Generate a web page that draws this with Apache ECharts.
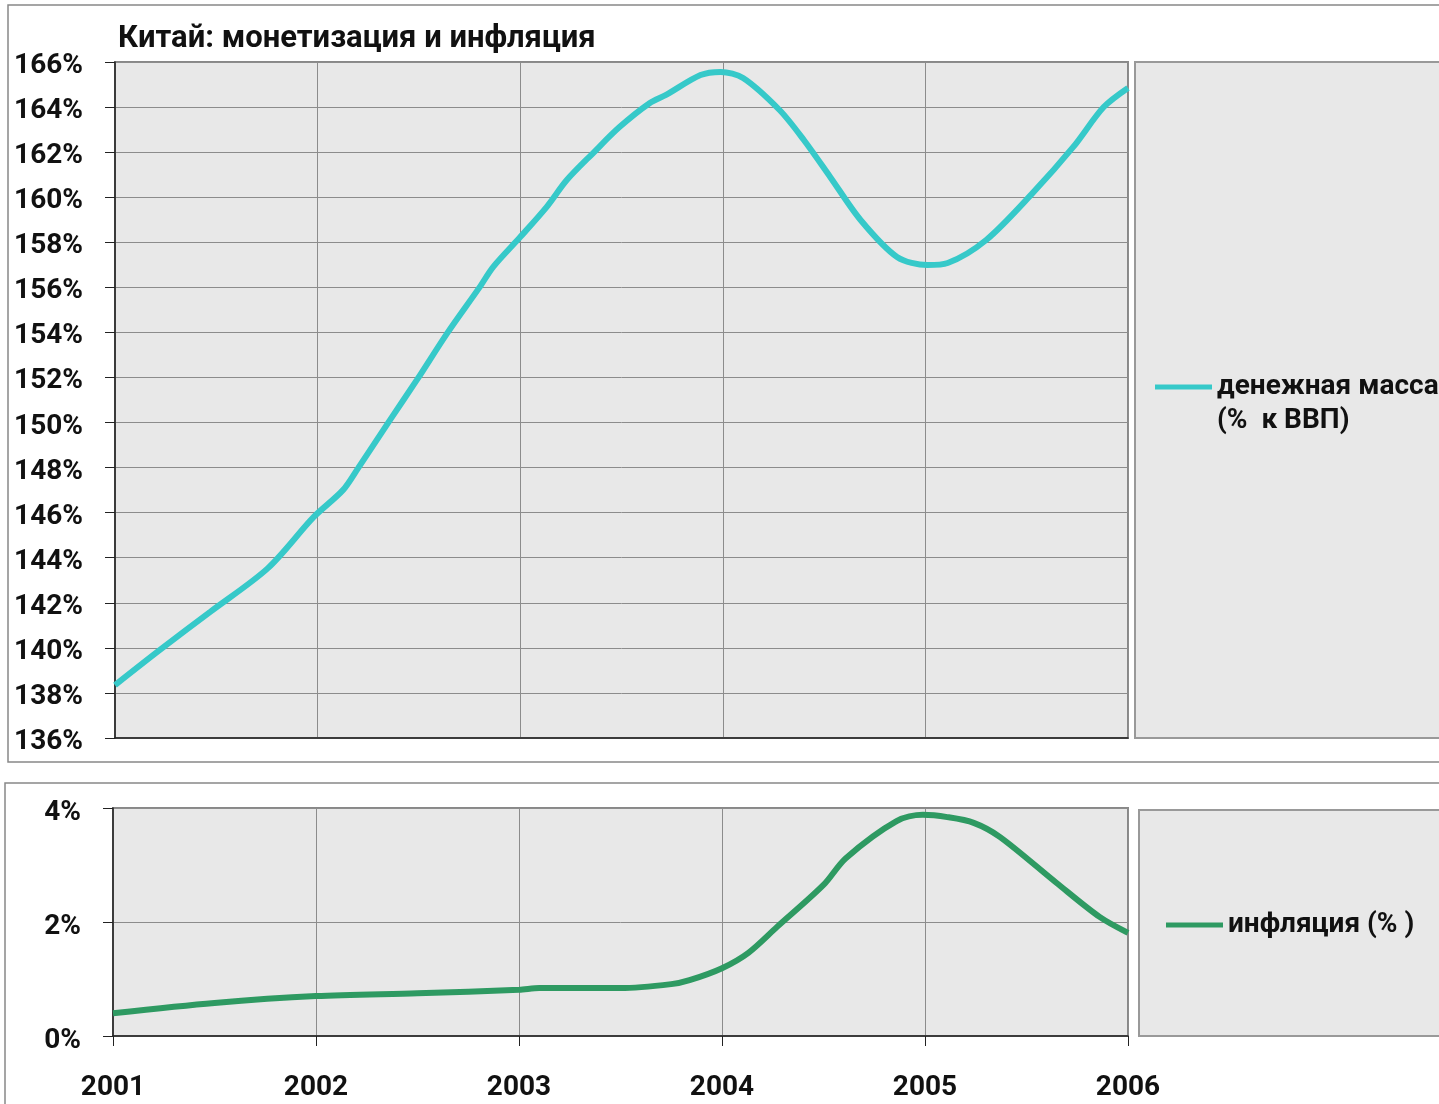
<!DOCTYPE html>
<html>
<head>
<meta charset="utf-8">
<script src="https://cdn.jsdelivr.net/npm/echarts@6/dist/echarts.min.js"></script>
<style>
  html, body { margin: 0; padding: 0; background: #fff; }
  #chart { width: 1439px; height: 1104px; }
</style>
</head>
<body>
<div id="chart"></div>
<script>
// money supply, % of GDP (x = year as decimal)
const moneyYears = [2001.0, 2001.22, 2001.47, 2001.755, 2001.98, 2002.125, 2002.2, 2002.357, 2002.49, 2002.64,
  2002.8, 2002.866, 2003.0, 2003.13, 2003.23, 2003.36, 2003.49, 2003.64, 2003.72, 2003.89,
  2003.99, 2004.1, 2004.28, 2004.4, 2004.53, 2004.68, 2004.86, 2005.01, 2005.11, 2005.3,
  2005.53, 2005.73, 2005.88, 2006.0]
const moneyValues = [138.35, 139.9, 141.6, 143.54, 145.8, 147.0, 147.98, 150.11, 151.89, 153.97,
  156.01, 156.9, 158.23, 159.56, 160.76, 161.96, 163.11, 164.18, 164.54, 165.42,
  165.56, 165.29, 163.87, 162.54, 160.9, 158.99, 157.35, 156.99, 157.08, 158.1,
  160.19, 162.23, 164.0, 164.85]

// inflation, %
const inflYears = [2001.0, 2001.5, 2002.0, 2002.5, 2003.0, 2003.1, 2003.5, 2003.75, 2003.84, 2004.0,
  2004.13, 2004.27, 2004.5, 2004.61, 2004.86, 2004.99, 2005.11, 2005.24, 2005.37, 2005.65,
  2005.86, 2006.0]
const inflValues = [0.40, 0.58, 0.70, 0.75, 0.81, 0.84, 0.84, 0.91, 0.98, 1.19,
  1.46, 1.91, 2.65, 3.12, 3.77, 3.88, 3.84, 3.74, 3.49, 2.68,
  2.09, 1.81]

const yearTicks = [2001, 2002, 2003, 2004, 2005, 2006]

const FONT = 'Roboto, "Liberation Sans", sans-serif'
const PLOT_BG = '#e8e8e8'
const GRID_LINE = '#8c8c8c'

const chart = echarts.init(document.getElementById('chart'))

const labelStyle = { color: '#111', fontSize: 28, fontWeight: 'bold', fontFamily: FONT }

// y labels sit a few px below their tick: a thin empty first line pushes the text down
const yLabel = (gap) => Object.assign({
  margin: 32,
  formatter: v => '{s| }\n{v|' + v + '%}',
  rich: { v: { lineHeight: 30 }, s: { lineHeight: gap, fontSize: 1 } }
}, labelStyle)

chart.setOption({
  animation: false,
  title: {
    text: 'Китай: монетизация и инфляция',
    left: 113, top: 19,
    textStyle: { color: '#111', fontSize: 31, fontWeight: 'bold', fontFamily: FONT }
  },
  graphic: [
    { type: 'rect', shape: { x: 8, y: 5, width: 1440, height: 757 }, style: { fill: 'none', stroke: '#888', lineWidth: 1.5 }, z: -10 },
    { type: 'rect', shape: { x: 5, y: 783, width: 1440, height: 330 }, style: { fill: 'none', stroke: '#888', lineWidth: 1.5 }, z: -10 },
    { type: 'rect', shape: { x: 1135, y: 62, width: 312, height: 676 }, style: { fill: PLOT_BG, stroke: '#999', lineWidth: 2 }, z: -5 },
    { type: 'rect', shape: { x: 1139, y: 810, width: 312, height: 226 }, style: { fill: PLOT_BG, stroke: '#999', lineWidth: 2 }, z: -5 }
  ],
  legend: [
    {
      data: ['денежная масса'],
      left: 1150, top: 331,
      icon: 'rect', itemWidth: 57, itemHeight: 5, itemGap: 0,
      // blank first line keeps the icon level with the first text line
      formatter: () => '\u00a0\nденежная масса\n(%  к ВВП)',
      textStyle: { color: '#111', fontSize: 28, fontWeight: 'bold', fontFamily: FONT, lineHeight: 34 }
    },
    {
      data: ['инфляция (% )'],
      left: 1161, top: 906,
      icon: 'rect', itemWidth: 57, itemHeight: 5,
      textStyle: { color: '#111', fontSize: 28, fontWeight: 'bold', fontFamily: FONT }
    }
  ],
  grid: [
    { left: 115, top: 62, right: 311, bottom: 366, show: true, backgroundColor: PLOT_BG, borderColor: '#888', borderWidth: 2 },
    { left: 113, top: 808, right: 311, bottom: 68, show: true, backgroundColor: PLOT_BG, borderColor: '#888', borderWidth: 2 }
  ],
  xAxis: [
    {
      type: 'value', gridIndex: 0, min: 2001, max: 2006, interval: 1,
      axisLine: { show: true, lineStyle: { color: '#222', width: 1.5 } },
      axisTick: { show: false },
      axisLabel: { show: false },
      splitLine: { show: true, lineStyle: { color: GRID_LINE, width: 1 } }
    },
    {
      type: 'value', gridIndex: 1, min: 2001, max: 2006, interval: 1,
      axisLine: { show: true, lineStyle: { color: '#222', width: 1.5 } },
      axisTick: { show: true, length: 10, lineStyle: { color: '#222' } },
      axisLabel: Object.assign({ margin: 38, formatter: v => yearTicks.includes(v) ? String(v) : '' }, labelStyle),
      splitLine: { show: true, lineStyle: { color: GRID_LINE, width: 1 } }
    }
  ],
  yAxis: [
    {
      type: 'value', gridIndex: 0, min: 136, max: 166, interval: 2,
      axisLine: { show: true, lineStyle: { color: '#222', width: 1.5 } },
      axisTick: { show: true, inside: false, length: 10, lineStyle: { color: '#222' } },
      axisLabel: yLabel(8),
      splitLine: { show: true, lineStyle: { color: GRID_LINE, width: 1 } }
    },
    {
      type: 'value', gridIndex: 1, min: 0, max: 4, interval: 2,
      axisLine: { show: true, lineStyle: { color: '#222', width: 1.5 } },
      axisTick: { show: true, length: 10, lineStyle: { color: '#222' } },
      axisLabel: yLabel(10),
      splitLine: { show: true, lineStyle: { color: GRID_LINE, width: 1 } }
    }
  ],
  series: [
    {
      name: 'денежная масса', type: 'line', xAxisIndex: 0, yAxisIndex: 0,
      data: moneyYears.map((x, i) => [x, moneyValues[i]]),
      smooth: 0.3, showSymbol: false, symbol: 'none',
      itemStyle: { color: '#36c9c9' },
      lineStyle: { color: '#36c9c9', width: 6 }
    },
    {
      name: 'инфляция (% )', type: 'line', xAxisIndex: 1, yAxisIndex: 1,
      data: inflYears.map((x, i) => [x, inflValues[i]]),
      smooth: 0.3, showSymbol: false, symbol: 'none',
      itemStyle: { color: '#2e9a62' },
      lineStyle: { color: '#2e9a62', width: 6 }
    }
  ]
})

window.addEventListener('resize', () => chart.resize())
</script>
</body>
</html>
